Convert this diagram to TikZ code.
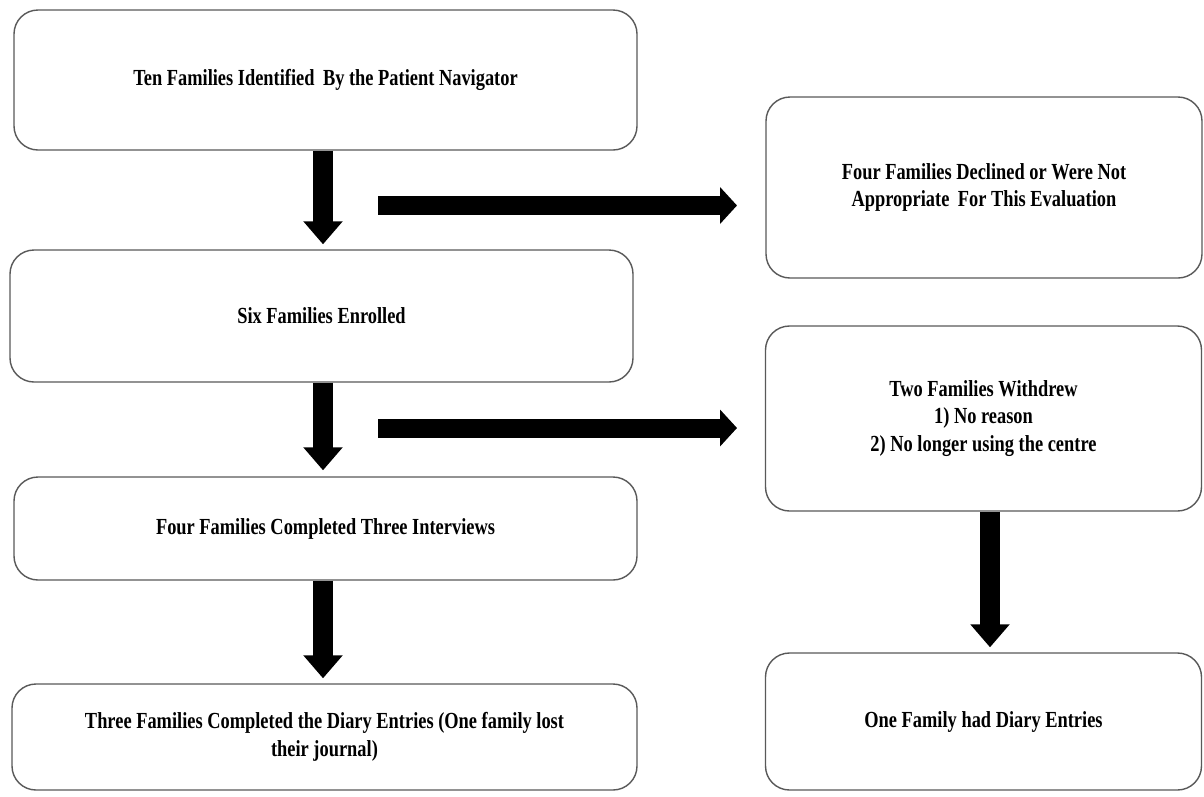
\documentclass[tikz,border=0pt]{standalone}
\usepackage{fontspec}
\usetikzlibrary{arrows.meta}
\newfontfamily\lab{Liberation Serif Bold}[FakeStretch=0.8]
\begin{document}
\begin{tikzpicture}[x=1pt,y=-1pt,
  box/.style={draw=black!65, line width=1.4pt, rounded corners=24pt, fill=white,
    align=center, inner sep=0pt, font=\lab\fontsize{23}{27.5}\selectfont},
  blk/.style={line width=20pt, -{Triangle[width=38pt,length=23pt]}},
  hblk/.style={line width=19pt, -{Triangle[width=36pt,length=17pt]}}]
\useasboundingbox (0,0) rectangle (1204,796);
\node[box, minimum width=623pt, minimum height=140pt] (b1) at (325.5,80) {Ten Families Identified\, By the Patient Navigator};
\node[box, minimum width=623pt, minimum height=132pt] (b2) at (321.5,316) {Six Families Enrolled};
\node[box, minimum width=623pt, minimum height=103pt] (b3) at (325.5,528.5) {Four Families Completed Three Interviews};
\node[box, minimum width=625pt, minimum height=106pt] (b4) at (324.5,737) {Three Families Completed the Diary Entries (One family lost\\their journal)};
\node[box, minimum width=436pt, minimum height=181pt] (r1) at (984,187.5) {Four Families Declined or Were Not\\Appropriate\, For This Evaluation};
\node[box, minimum width=436pt, minimum height=185pt] (r2) at (983.5,418.5) {Two Families Withdrew\\1) No reason\\2) No longer using the centre};
\node[box, minimum width=436pt, minimum height=137pt] (r3) at (983.5,721.5) {One Family had Diary Entries};
\coordinate (cx) at (323,0);
\coordinate (rx) at (990,0);
\coordinate (h1s) at (378,205.5);
\coordinate (h1e) at (737,205.5);
\coordinate (h2s) at (378,428);
\coordinate (h2e) at (737,428);
\draw[blk, shorten >=5pt] (b1.south -| cx) -- (b2.north -| cx);
\draw[blk, shorten >=6pt] (b2.south -| cx) -- (b3.north -| cx);
\draw[blk, shorten >=5pt] (b3.south -| cx) -- (b4.north -| cx);
\draw[blk, shorten >=5pt] (r2.south -| rx) -- (r3.north -| rx);
\draw[hblk] (h1s) -- (h1e);
\draw[hblk] (h2s) -- (h2e);
\end{tikzpicture}
\end{document}
